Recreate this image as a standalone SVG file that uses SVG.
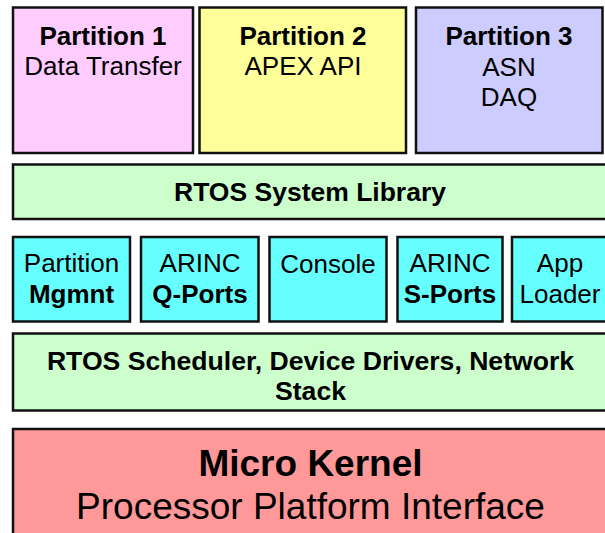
<svg xmlns="http://www.w3.org/2000/svg" width="605" height="533" viewBox="0 0 605 533">
<style>
rect{stroke:#111;stroke-width:2.5}
text{font-family:"Liberation Sans",Arial,sans-serif;fill:#000;text-anchor:middle;font-size:26px}
.b{font-weight:bold}
</style>
<rect x="0" y="0" width="605" height="533" fill="#fff" style="stroke:none"/>
<g id="partition1">
<rect x="13" y="7.5" width="180" height="145.5" fill="#FFCCFF"/>
<text x="103" y="45" class="b">Partition 1</text>
<text x="103" y="75">Data Transfer</text>
</g>
<g id="partition2">
<rect x="199.5" y="7.5" width="206.5" height="145.5" fill="#FFFF99"/>
<text x="303" y="45" class="b">Partition 2</text>
<text x="303" y="75">APEX API</text>
</g>
<g id="partition3">
<rect x="416" y="7.5" width="186.5" height="145.5" fill="#CCCCFF"/>
<text x="509" y="45" class="b">Partition 3</text>
<text x="509" y="76">ASN</text>
<text x="509" y="106">DAQ</text>
</g>
<g id="rtos-lib">
<rect x="13" y="164.5" width="600" height="54.5" fill="#CCFFCC"/>
<text x="310" y="201" class="b" style="font-size:26.5px">RTOS System Library</text>
</g>
<g id="partition-mgmnt">
<rect x="13" y="237" width="117" height="84.5" fill="#66FFFF"/>
<text x="71.5" y="272">Partition</text>
<text x="71.5" y="303" class="b">Mgmnt</text>
</g>
<g id="arinc-q">
<rect x="141" y="237" width="117.5" height="84.5" fill="#66FFFF"/>
<text x="200" y="272">ARINC</text>
<text x="200" y="303" class="b">Q-Ports</text>
</g>
<g id="console">
<rect x="269.5" y="237" width="117" height="84.5" fill="#66FFFF"/>
<text x="328" y="273">Console</text>
</g>
<g id="arinc-s">
<rect x="397.5" y="237" width="105" height="84.5" fill="#66FFFF"/>
<text x="450" y="272">ARINC</text>
<text x="450" y="303" class="b">S-Ports</text>
</g>
<g id="app-loader">
<rect x="512" y="237" width="110" height="84.5" fill="#66FFFF"/>
<text x="560" y="272">App</text>
<text x="560" y="303">Loader</text>
</g>
<g id="rtos-sched">
<rect x="13" y="333.5" width="600" height="77" fill="#CCFFCC"/>
<text x="310.5" y="370" class="b" style="font-size:26.6px">RTOS Scheduler, Device Drivers, Network</text>
<text x="310.5" y="400" class="b" style="font-size:26.6px">Stack</text>
</g>
<g id="micro-kernel">
<rect x="13" y="429" width="600" height="120" fill="#FF9999"/>
<text x="310.5" y="476" class="b" style="font-size:37px">Micro Kernel</text>
<text x="310.5" y="519" style="font-size:37px">Processor Platform Interface</text>
</g>
<g id="connectors"></g>
</svg>
